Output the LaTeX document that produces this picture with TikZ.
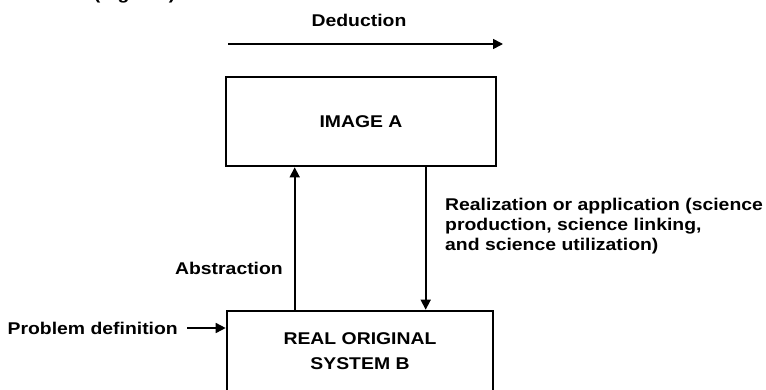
\documentclass[tikz,border=0pt]{standalone}
\usepackage{fontspec}
\setmainfont{Liberation Sans}[FakeStretch=1.14]
\usetikzlibrary{arrows.meta,calc}
\begin{document}
\begin{tikzpicture}[x=1pt,y=-1pt,
  every node/.style={font=\bfseries\fontsize{17}{20}\selectfont},
  box/.style={draw,line width=2.6pt,minimum width=268pt,inner sep=0pt},
  arr/.style={line width=1.6pt,-{Triangle[length=10pt,width=10pt]}},
  lbl/.style={inner sep=0pt}]
\useasboundingbox (0,0) rectangle (766,389);
\clip (0,0) rectangle (766,389);
% tail of the caption line above, running off the top edge
\node[lbl,anchor=base east] (cap) at (181,-1) {notes (Fig. 2.4).};
% deduction arrow
\coordinate (dedL) at (228,44);
\coordinate (dedR) at (503,44);
\draw[arr] (dedL) -- (dedR);
\node[lbl] (ded) at (359,20) {Deduction};
% the two boxes
\node[box,minimum width=270pt,minimum height=89pt] (A) at (361,121.5) {\raisebox{-3pt}{IMAGE A}};
\node[box,minimum width=266pt,minimum height=81pt,align=center] (B) at (360,351.5)
  {REAL ORIGINAL\\[5pt]SYSTEM B};
% abstraction and realization connectors
\draw[arr] ([xshift=69pt]B.north west) -- ([xshift=70pt]A.south west);
\draw[arr] ([xshift=201pt]A.south west) -- ([xshift=200pt]B.north west);
\node[lbl,anchor=east] (abs) at (283,268) {Abstraction};
\node[lbl,anchor=north west,align=left] (real) at (445,198)
  {Realization or application (science\\production, science linking,\\and science utilization)};
% problem definition input
\node[lbl,anchor=east] (pd) at (178,328) {Problem definition};
\draw[arr] (pd.east) ++(9pt,0) coordinate (pdS) (pdS) -- (pdS -| B.west);
\end{tikzpicture}
\end{document}
